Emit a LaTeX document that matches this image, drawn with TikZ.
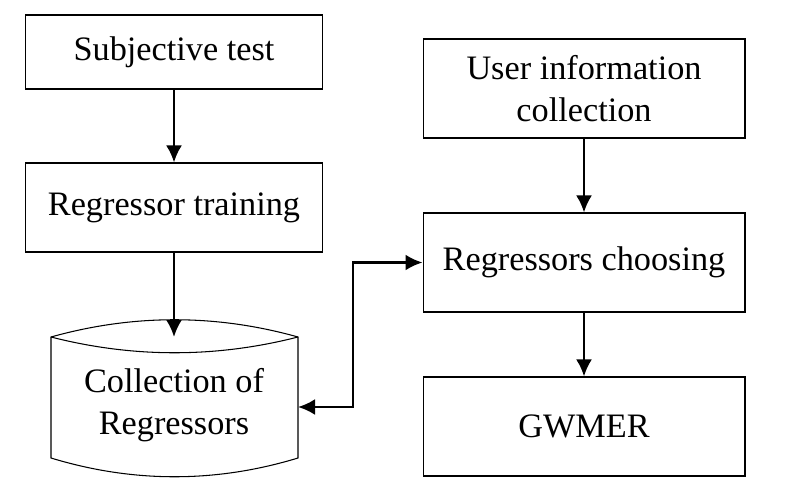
\documentclass[tikz,border=0pt]{standalone}
\usepackage{fontspec}
\setmainfont{Liberation Serif}
\usepackage{tikz}
\usetikzlibrary{arrows.meta,positioning,calc}

\tikzset{
    block/.style={draw,line width=0.6pt,minimum width=5.94cm,align=center,inner sep=0pt,
        font=\fontsize{19.5}{24}\selectfont},
    wideblock/.style={block,minimum width=6.44cm,minimum height=1.98cm},
    store/.style={minimum width=4.94cm,minimum height=2.42cm,align=center,inner sep=0pt,
        font=\fontsize{19.5}{24}\selectfont},
    flow/.style={-{Latex[length=0.34cm,width=0.32cm]},line width=1.5pt},
}

\begin{document}
\begin{tikzpicture}[x=0.02cm,y=-0.02cm]
        \useasboundingbox (0,0) rectangle (786,496);

        %%%% Left column ================================
        % Blocks
        \node[block,minimum height=1.48cm] (subj) at (174,52) {Subjective test};
        \node[block,minimum height=1.78cm] (train) at (174,207.5) {Regressor training};

        % Storage
        \node[store] (coll) at (174,405) {Collection of\\Regressors};
        \coordinate (nw) at (51,337);
        \coordinate (ne) at (298,337);
        \coordinate (sw) at (51,458);
        \coordinate (se) at (298,458);
        \draw[line width=0.6pt] (nw) .. controls +(82,-23) and +(-82,-23) .. (ne)
            -- (se) .. controls +(-82,25) and +(82,25) .. (sw) -- cycle;
        \draw[line width=0.6pt] (nw) .. controls +(82,21) and +(-82,21) .. (ne);

        %%%% Right column ===============================
        \node[wideblock,minimum height=1.98cm] (user) at (584,88.5) {User information\\collection};
        \node[wideblock] (choose) at (584,262.5) {Regressors choosing};
        \node[wideblock] (gwmer) at (584,426.5) {GWMER};

        % Arcs
        \coordinate (link) at (353,407);
        \draw[flow] (subj) -- (train);
        \draw[flow] (train.south) -- (coll.south |- nw);
        \draw[flow] (user) -- (choose);
        \draw[flow] (choose) -- (gwmer);
        \draw[flow,{Latex[length=0.34cm,width=0.32cm]}-{Latex[length=0.34cm,width=0.32cm]}]
            (ne |- link) -- (link) |- (choose.west);
    \end{tikzpicture}
\end{document}
